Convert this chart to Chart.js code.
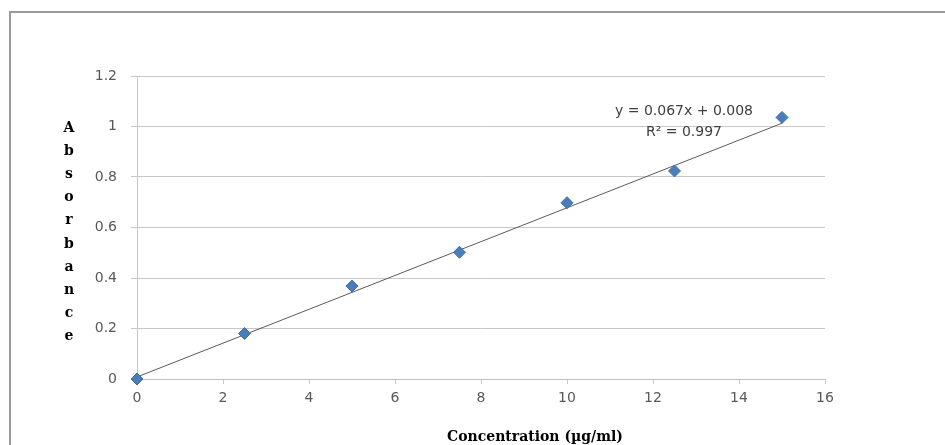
<!DOCTYPE html>
<html>
<head>
<meta charset="utf-8">
<script src="https://cdn.jsdelivr.net/npm/chart.js@4.4.1/dist/chart.umd.min.js"></script>
<style>
  html, body { margin: 0; padding: 0; background: #fff; overflow: hidden; }
  #frame {
    position: absolute; left: 9px; top: 11px; width: 960px; height: 460px;
    border: 2px solid #9a9a9a; box-sizing: border-box;
  }
  #wrap { position: absolute; left: 0; top: 0; width: 945px; height: 445px; }
</style>
</head>
<body>
<div id="frame"></div>
<div id="wrap"><canvas id="calibrationChart" width="945" height="445"></canvas></div>
<script>
// data
const concentrations = [0, 2.5, 5, 7.5, 10, 12.5, 15];
const absorbances = [0, 0.18, 0.368, 0.502, 0.698, 0.824, 1.036];

// fitted trendline shown on the chart
const trendSlope = 0.067;
const trendIntercept = 0.008;
const trendRange = [0, 15];
const equationLines = ["y = 0.067x + 0.008", "R² = 0.997"];

const xTicks = [0, 2, 4, 6, 8, 10, 12, 14, 16];
const yTicks = [0, 0.2, 0.4, 0.6, 0.8, 1, 1.2];
const xTitle = "Concentration (µg/ml)";
const yTitle = "Absorbance";

const tickFont = { family: "'DejaVu Sans'", size: 14 };
const titleFont = "bold 14px 'DejaVu Serif'";

const textPlugin = {
  id: "textPlugin",
  afterDraw(chart) {
    const ctx = chart.ctx;
    const x = chart.scales.x;
    const y = chart.scales.y;
    ctx.save();

    // equation + R² label
    ctx.font = "14px 'DejaVu Sans'";
    ctx.fillStyle = "#404040";
    ctx.textAlign = "center";
    ctx.textBaseline = "middle";
    ctx.fillText(equationLines[0], x.getPixelForValue(12.72), y.getPixelForValue(1.058));
    ctx.fillText(equationLines[1], x.getPixelForValue(12.72), y.getPixelForValue(0.978));

    // stacked y title
    ctx.font = titleFont;
    ctx.fillStyle = "#000";
    yTitle.split("").forEach((ch, i) => {
      ctx.fillText(ch, 69, 128 + i * 23.2);
    });

    // x title
    ctx.fillText(xTitle, 535, 437);
    ctx.restore();
  },
};

const trendData = trendRange.map((v) => ({ x: v, y: trendSlope * v + trendIntercept }));

new Chart(document.getElementById("calibrationChart"), {
  type: "scatter",
  data: {
    datasets: [
      {
        label: "Absorbance",
        data: concentrations.map((c, i) => ({ x: c, y: absorbances[i] })),
        pointStyle: "rectRot",
        pointRadius: 6,
        pointHoverRadius: 6,
        backgroundColor: "#4a7ebb",
        borderColor: "#3d6ea8",
        borderWidth: 1,
        clip: false,
      },
      {
        type: "line",
        label: "Trend",
        data: trendData,
        borderColor: "#5a5a5a",
        borderWidth: 1,
        pointRadius: 0,
        fill: false,
        clip: false,
      },
    ],
  },
  options: {
    responsive: false,
    animation: false,
    layout: { padding: { left: 0, top: 76, right: 120, bottom: 26 } },
    plugins: {
      legend: { display: false },
      tooltip: { enabled: false },
    },
    scales: {
      x: {
        type: "linear",
        min: 0,
        max: 16,
        afterBuildTicks: (axis) => { axis.ticks = xTicks.map((v) => ({ value: v })); },
        afterFit: (axis) => { axis.height = 40; },
        ticks: { color: "#595959", font: tickFont, padding: 6 },
        grid: { display: true, drawOnChartArea: false, drawTicks: true, tickLength: 5, color: "#c8c8c8" },
        border: { display: true, color: "#bfbfbf" },
      },
      y: {
        type: "linear",
        min: 0,
        max: 1.2,
        afterBuildTicks: (axis) => { axis.ticks = yTicks.map((v) => ({ value: v })); },
        afterFit: (axis) => { axis.width = 137; },
        ticks: {
          color: "#595959",
          font: tickFont,
          padding: 14,
          callback: (value) => String(Number(value.toFixed(1))),
        },
        grid: { color: "#c8c8c8", tickLength: 6 },
        border: { display: true, color: "#c8c8c8" },
      },
    },
  },
  plugins: [textPlugin],
});
</script>
</body>
</html>
